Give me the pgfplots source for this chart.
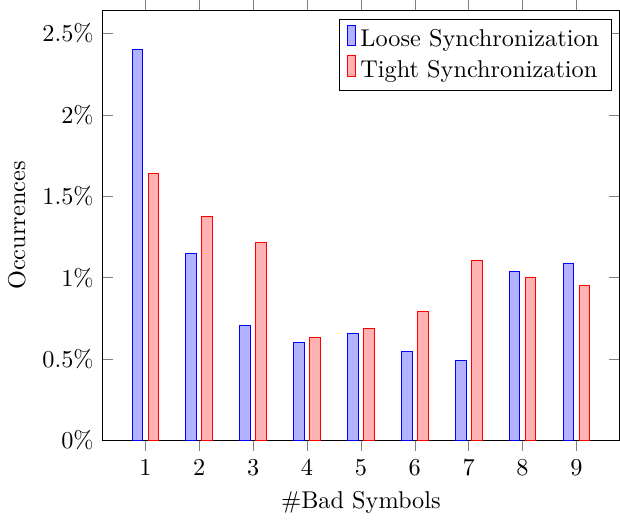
\documentclass[border=0pt]{standalone}
\usepackage{pgfplots}
\pgfplotsset{compat=1.18}
\begin{document}
\begin{tikzpicture}
\begin{axis}[
  scale only axis,
  width=213pt, height=177pt,
  ybar=2.2pt,
  bar width=4.4pt,
  xmin=0.2, xmax=9.8,
  ymin=0, ymax=2.64,
  xtick={1,2,3,4,5,6,7,8,9},
  ytick={0,0.5,1,1.5,2,2.5},
  yticklabel={\pgfmathprintnumber{\tick}\%},
  xtick align=outside,
  xlabel={\#Bad Symbols},
  ylabel={Occurrences},
  legend style={at={(0.985,0.98)},anchor=north east},
  legend cell align=left,
  legend image code/.code={\draw[#1,/tikz/.cd,bar width=3.2pt,yshift=-0.25em,bar shift=0pt] plot coordinates {(0cm,0.85em)};},
]
\addplot coordinates {(1,2.40) (2,1.147) (3,0.709) (4,0.599) (5,0.654) (6,0.546) (7,0.491) (8,1.037) (9,1.090)};
\addplot coordinates {(1,1.638) (2,1.374) (3,1.215) (4,0.634) (5,0.685) (6,0.793) (7,1.108) (8,1.004) (9,0.951)};
\legend{Loose Synchronization, Tight Synchronization}
\end{axis}
\end{tikzpicture}
\end{document}
